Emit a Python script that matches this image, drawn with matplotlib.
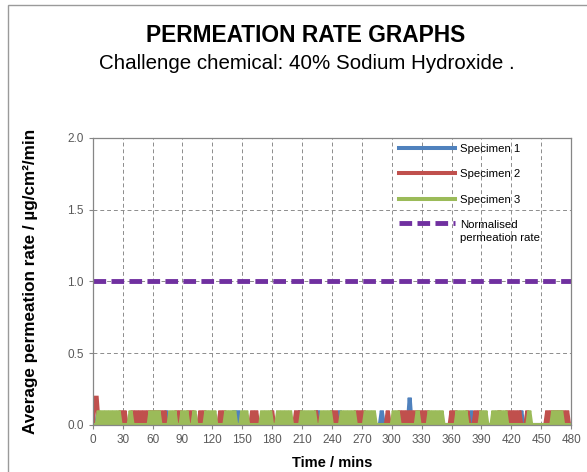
import numpy as np
import matplotlib.pyplot as plt
from matplotlib.patches import Rectangle

plt.rcParams["font.family"] = ["Liberation Sans", "DejaVu Sans"]

# readings at 2-minute steps, 0 -> 480 min; "0" = 0.0, "1" = ~0.1, "2" = ~0.19
time_mins = np.arange(0, 481, 2)
specimen_1 = (
    "100000000000000000000000000000"
    "000000010000000000000000000000"
    "000000000001010000000000000000"
    "000000000000001000000001000000"
    "000010000000000000000000010000"
    "000000000200000000000000000000"
    "000000000010000000000000000000"
    "000001000000000000000000000000"
    "0"
)
specimen_2 = (
    "022000000000001010001010101010"
    "101010100000101000101000101000"
    "000010100000000000001010000000"
    "100000000000101000000010000000"
    "101000000000101010000000000010"
    "000010101010101010100000000000"
    "101000001000101000000000100010"
    "101010001000000000101010101010"
    "0"
)
specimen_3 = (
    "000101010101010000010000000001"
    "010100000101000101000100000101"
    "010000010101000101000000010101"
    "000101010100000101010100010101"
    "000001010101000001010100000000"
    "010100000000010000010101010000"
    "000101010000000101000101010100"
    "000000000100000000000101010000"
    "0"
)
levels = {"0": 0.0, "1": 0.1, "2": 0.19}
norm_time = [0, 480]
norm_rate = [1.0, 1.0]

x_ticks = np.arange(0, 481, 30)
y_ticks = [0.0, 0.5, 1.0, 1.5, 2.0]

series = [
    ("Specimen 1", specimen_1, "#4F81BD"),
    ("Specimen 2", specimen_2, "#C0504D"),
    ("Specimen 3", specimen_3, "#9BBB59"),
]

fig = plt.figure(figsize=(5.87, 4.72), dpi=100)
ax = fig.add_axes([0.158, 0.0996, 0.815, 0.6086])

for name, codes, color in series:
    values = [levels[c] for c in codes]
    ax.plot(time_mins, values, color=color, lw=2.9, label=name, solid_joinstyle="miter")

ax.plot(norm_time, norm_rate, color="#7030A0", lw=3.5, dashes=(2.6, 1.1),
        label="Normalised\npermeation rate")

ax.set_xlim(0, 480)
ax.set_ylim(0, 2.0)
ax.set_xticks(x_ticks)
ax.set_yticks(y_ticks)
ax.set_yticklabels([f"{v:.1f}" for v in y_ticks])
ax.tick_params(labelsize=8.5, labelcolor="#595959", color="#868686", length=3, width=0.8)
ax.grid(True, color="#8c8c8c", ls=(0, (4, 3)), lw=0.7)
for sp in ax.spines.values():
    sp.set_color("#868686")
    sp.set_linewidth(0.9)

ax.set_xlabel("Time / mins", fontsize=10.5, fontweight="bold", labelpad=7)
ax.set_ylabel("Average permeation rate / µg/cm²/min", fontsize=12.3, fontweight="bold", labelpad=21)

leg = ax.legend(loc="upper left", bbox_to_anchor=(0.641, 0.978), frameon=False, fontsize=8.2,
                handlelength=4.9, handletextpad=0.4, labelspacing=1.35, borderpad=0,
                borderaxespad=0)
leg.get_texts()[3].set_linespacing(1.4)
norm_handle = leg.legend_handles[3]
norm_handle.set_ydata(np.asarray(norm_handle.get_ydata()) + 6.5)

fig.text(0.52, 0.925, "PERMEATION RATE GRAPHS", ha="center", va="center",
         fontsize=16.4, fontweight="bold")
fig.text(0.522, 0.865, "Challenge chemical: 40% Sodium Hydroxide .", ha="center", va="center",
         fontsize=14.8)

fig.patches.append(Rectangle((8 / 587, -0.1), 1.2, 1.1 - 5 / 472, transform=fig.transFigure,
                             fill=False, ec="#9a9a9a", lw=1.0))

fig.savefig("out.png", dpi=100)
